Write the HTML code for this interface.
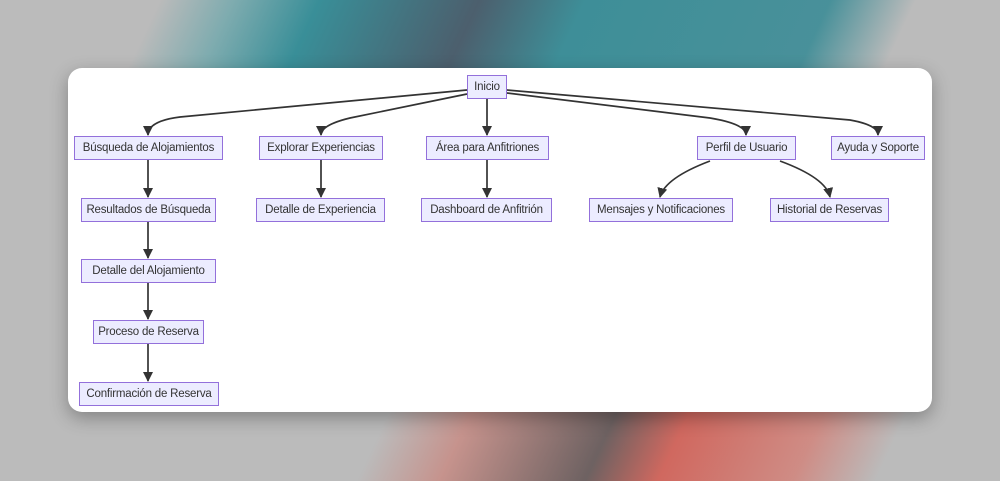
<!DOCTYPE html>
<html><head><meta charset="utf-8"><style>
html,body{margin:0;padding:0}
body{width:1000px;height:481px;overflow:hidden;position:relative;background:#bbbbbb;font-family:"Liberation Sans",sans-serif}
.bg{position:absolute;left:0;right:0;top:0;height:140px;background:
linear-gradient(115deg,transparent 0 15%,rgba(100,165,170,.7) 22%,rgba(50,140,150,.95) 30%,rgba(70,90,105,.95) 45%,rgba(55,140,150,.95) 55%,rgba(60,140,150,.9) 78%,transparent 86%);}
.bg2{position:absolute;left:0;right:0;top:400px;height:81px;background:
linear-gradient(115deg,transparent 0 38%,rgba(205,120,110,.6) 46%,rgba(90,75,75,.8) 60%,rgba(210,95,85,.9) 67%,rgba(215,120,110,.7) 80%,transparent 88%);}
.card{position:absolute;left:68px;top:68px;width:864px;height:344px;background:#fff;border-radius:14px;box-shadow:0 6px 18px rgba(0,0,0,.3)}
svg{position:absolute;left:0;top:0}
.n{position:absolute;height:24px;box-sizing:border-box;background:#ececff;border:1px solid #9370db;font-size:11.5px;letter-spacing:-0.2px;line-height:22px;text-align:center;color:#333;white-space:nowrap}
</style></head><body>
<div class="bg"></div><div class="bg2"></div>
<div class="card"></div>
<svg width="1000" height="481">
<defs><marker id="a" markerWidth="10" markerHeight="10" refX="9" refY="5" orient="auto" markerUnits="userSpaceOnUse"><path d="M0,0L10,5L0,10z" fill="#333"/></marker></defs>
<g stroke="#333" stroke-width="1.7" fill="none" marker-end="url(#a)">
<path d="M467,90 L180,117 Q148,121 148,135"/>
<path d="M467,94 L350,118 Q321,125 321,135"/>
<path d="M487,99 L487,135"/>
<path d="M507,93 L710,118 Q746,124 746,135"/>
<path d="M507,90 L850,120 Q878,125 878,135"/>
<path d="M148,160 L148,197"/>
<path d="M321,160 L321,197"/>
<path d="M487,160 L487,197"/>
<path d="M710,161 Q665,178 660,197"/>
<path d="M780,161 Q826,178 830,197"/>
<path d="M148,222 L148,258"/>
<path d="M148,283 L148,319"/>
<path d="M148,344 L148,381"/>
</g></svg>
<div class="n" style="left:467px;top:75px;width:40px">Inicio</div>
<div class="n" style="left:74px;top:136px;width:149px">Búsqueda de Alojamientos</div>
<div class="n" style="left:259px;top:136px;width:124px">Explorar Experiencias</div>
<div class="n" style="left:426px;top:136px;width:123px">Área para Anfitriones</div>
<div class="n" style="left:697px;top:136px;width:99px">Perfil de Usuario</div>
<div class="n" style="left:831px;top:136px;width:94px">Ayuda y Soporte</div>
<div class="n" style="left:81px;top:198px;width:135px">Resultados de Búsqueda</div>
<div class="n" style="left:256px;top:198px;width:129px">Detalle de Experiencia</div>
<div class="n" style="left:421px;top:198px;width:131px">Dashboard de Anfitrión</div>
<div class="n" style="left:589px;top:198px;width:144px">Mensajes y Notificaciones</div>
<div class="n" style="left:770px;top:198px;width:119px">Historial de Reservas</div>
<div class="n" style="left:81px;top:259px;width:135px">Detalle del Alojamiento</div>
<div class="n" style="left:93px;top:320px;width:111px">Proceso de Reserva</div>
<div class="n" style="left:79px;top:382px;width:140px">Confirmación de Reserva</div>
</body></html>
